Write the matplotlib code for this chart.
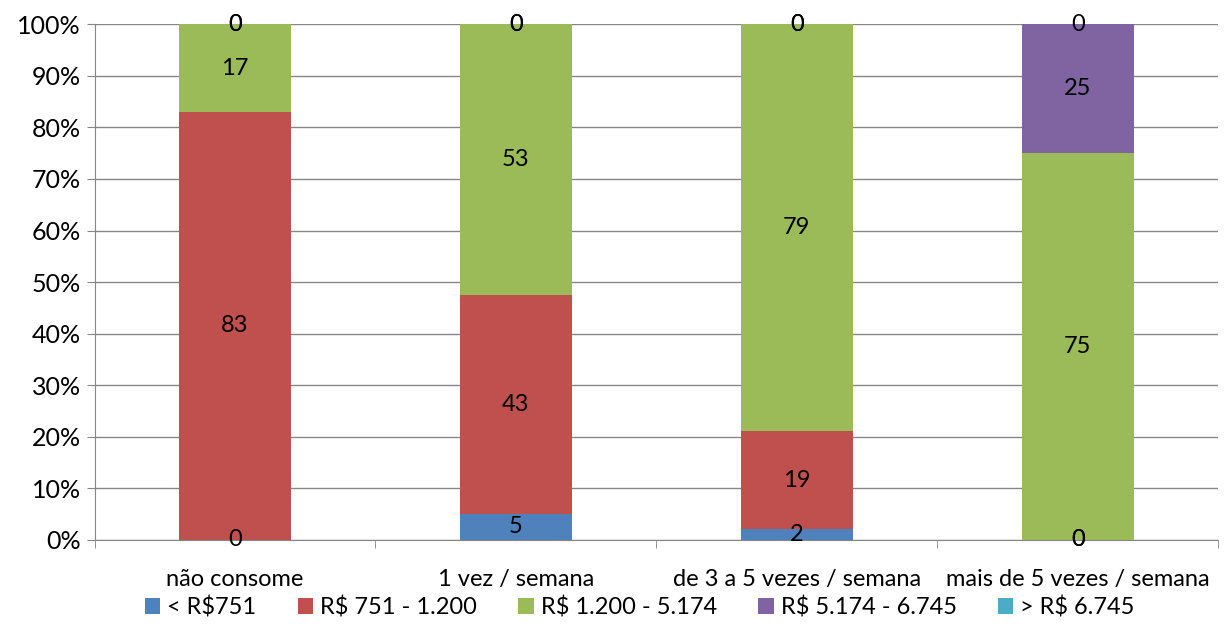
import numpy as np
import matplotlib.pyplot as plt

plt.rcParams['font.family'] = ['Lato', 'DejaVu Sans']

categories = ["não consome", "1 vez / semana", "de 3 a 5 vezes / semana", "mais de 5 vezes / semana"]
series_names = ["< R$751", "R$ 751 - 1.200", "R$ 1.200 - 5.174", "R$ 5.174 - 6.745", "> R$ 6.745"]
colors = ["#4f81bd", "#c0504d", "#9bbb59", "#8064a2", "#4bacc6"]

ate_751 = [0, 5, 2, 0]
de_751_1200 = [83, 43, 19, 0]
de_1200_5174 = [17, 53, 79, 75]
de_5174_6745 = [0, 0, 0, 25]
acima_6745 = [0, 0, 0, 0]

data = np.array([ate_751, de_751_1200, de_1200_5174, de_5174_6745, acima_6745], dtype=float)
pct = data / data.sum(axis=0) * 100

fig, ax = plt.subplots(figsize=(12.28, 6.41), dpi=100)
fig.subplots_adjust(left=0.077, right=0.992, top=0.962, bottom=0.158)

fs = 17
x = np.arange(len(categories))
bottom = np.zeros(len(categories))
for i in range(len(series_names)):
    ax.bar(x, pct[i], 0.4, bottom=bottom, color=colors[i], label=series_names[i], zorder=2)
    for j in range(len(categories)):
        ax.text(x[j], bottom[j] + pct[i][j] / 2, "%d" % data[i][j], ha="center", va="center",
                fontsize=fs, zorder=3)
    bottom += pct[i]

ax.set_xlim(-0.5, len(categories) - 0.5)
ax.set_ylim(0, 100)
ax.set_yticks(np.arange(0, 101, 10))
ax.set_yticklabels(["%d%%" % v for v in range(0, 101, 10)], fontsize=18)
ax.set_xticks(x)
ax.set_xticklabels(categories, fontsize=fs)
ax.set_xticks(np.arange(-0.5, len(categories), 1), minor=True)
ax.tick_params(axis="x", which="major", length=0, pad=21)
ax.tick_params(axis="x", which="minor", length=6, color="#868686")
ax.tick_params(axis="y", length=6, color="#868686", pad=4)
ax.grid(axis="y", color="#868686", linewidth=1, zorder=0)
for s in ["top", "right"]:
    ax.spines[s].set_visible(False)
for s in ["left", "bottom"]:
    ax.spines[s].set_color("#868686")

fig.legend(*ax.get_legend_handles_labels(), loc="center", bbox_to_anchor=(0.521, 0.053), ncol=5,
           frameon=False, fontsize=fs, handlelength=0.65, handleheight=0.65, handletextpad=0.3,
           columnspacing=1.75)

plt.savefig("out.png")
